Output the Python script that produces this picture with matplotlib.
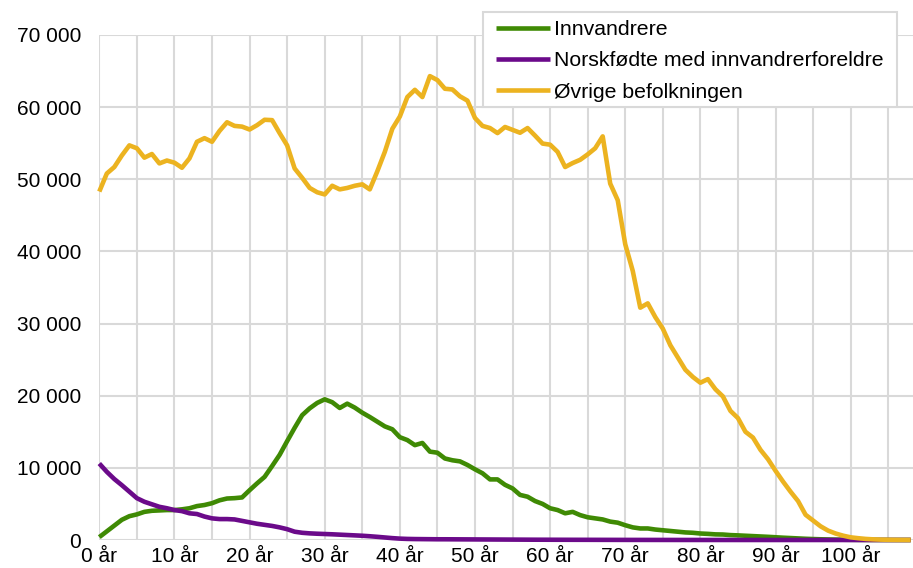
import numpy as np
import matplotlib
matplotlib.use('Agg')
import matplotlib.pyplot as plt
from matplotlib.patches import Rectangle
from matplotlib.ticker import FuncFormatter, MultipleLocator

plt.rcParams['font.family'] = ['Liberation Sans', 'DejaVu Sans']

# Ages 0-108 (one value per year of age)
ages = list(range(109))

innvandrere = [
    400, 1200, 2000, 2800, 3300, 3550, 3900, 4050, 4100, 4150,
    4150, 4250, 4400, 4700, 4850, 5100, 5500, 5750, 5800, 5900,
    6900, 7850, 8750, 10250, 11800, 13700, 15550, 17300, 18250, 19000,
    19500, 19100, 18300, 18900, 18350, 17650, 17050, 16400, 15750, 15350,
    14250, 13850, 13150, 13450, 12250, 12100, 11300, 11050, 10900, 10400,
    9800, 9250, 8400, 8400, 7650, 7150, 6250, 6000, 5400, 5000,
    4400, 4150, 3700, 3900, 3450, 3150, 3000, 2850, 2550, 2400,
    2050, 1750, 1600, 1600, 1450, 1350, 1250, 1150, 1050, 1000,
    900, 850, 780, 760, 680, 640, 590, 540, 490, 440,
    380, 320, 270, 220, 170, 130, 100, 75, 55, 40,
    28, 18, 12, 8, 5, 3, 2, 1, 1,
]

norskfodte = [
    10600, 9450, 8450, 7600, 6700, 5800, 5300, 4950, 4600, 4400,
    4150, 4000, 3700, 3600, 3250, 3000, 2900, 2900, 2850, 2650,
    2450, 2250, 2100, 1950, 1750, 1500, 1150, 1000, 920, 870,
    830, 790, 740, 690, 640, 590, 520, 440, 350, 260,
    190, 150, 130, 120, 110, 100, 100, 95, 90, 85,
    80, 75, 70, 65, 60, 55, 50, 45, 40, 38,
    35, 32, 30, 28, 26, 24, 22, 20, 18, 16,
    14, 12, 11, 10, 9, 8, 7, 6, 5, 5,
    4, 4, 3, 3, 3, 2, 2, 2, 2, 1,
    1, 1, 1, 1, 1, 1, 1, 1, 1, 0,
    0, 0, 0, 0, 0, 0, 0, 0, 0,
]

ovrige = [
    48300, 50800, 51700, 53300, 54700, 54300, 53000, 53500, 52200, 52600,
    52300, 51600, 52900, 55200, 55700, 55200, 56700, 57900, 57400, 57300,
    56900, 57500, 58250, 58200, 56400, 54700, 51500, 50200, 48800, 48200,
    47900, 49100, 48600, 48800, 49100, 49300, 48600, 51100, 53800, 57000,
    58700, 61400, 62400, 61400, 64300, 63750, 62550, 62450, 61500, 60900,
    58500, 57400, 57100, 56400, 57250, 56850, 56450, 57100, 56050, 54950,
    54800, 53800, 51700, 52250, 52700, 53450, 54300, 55950, 49400, 47100,
    41000, 37300, 32200, 32800, 30900, 29300, 27000, 25300, 23600, 22600,
    21800, 22300, 20900, 19900, 17900, 16900, 15000, 14200, 12500, 11200,
    9600, 8100, 6700, 5400, 3500, 2700, 1900, 1300, 900, 600,
    370, 250, 150, 90, 50, 30, 15, 8, 4,
]

series = ['Innvandrere', 'Norskfødte med innvandrerforeldre', 'Øvrige befolkningen']
colors = ['#3f8a04', '#6b0a8a', '#ecb320']

W, H = 913, 568
fig = plt.figure(figsize=(W / 100, H / 100), dpi=100)
ax = fig.add_axes([99.3 / W, 1 - 540 / H, 1 - 99.3 / W, 505 / H])

for name, values, color in zip(series, [innvandrere, norskfodte, ovrige], colors):
    ax.plot(ages, values, color=color, linewidth=3.3, label=name,
            solid_joinstyle='round', solid_capstyle='butt', clip_on=False)

ax.set_xlim(0, 108.3)
ax.set_ylim(0, 70000)
ax.xaxis.set_major_locator(MultipleLocator(10))
ax.xaxis.set_minor_locator(MultipleLocator(5))
ax.yaxis.set_major_locator(MultipleLocator(10000))
ax.xaxis.set_major_formatter(FuncFormatter(lambda v, p: f'{int(v)} år'))
ax.yaxis.set_major_formatter(FuncFormatter(lambda v, p: f'{int(v):,}'.replace(',', ' ')))

ax.grid(True, which='both', color='#d9d9d9', linewidth=1.5)
ax.set_axisbelow(True)
for s in ax.spines.values():
    s.set_visible(False)
ax.tick_params(axis='both', which='both', length=0, labelsize=15, colors='black')
ax.tick_params(axis='y', pad=13)
ax.tick_params(axis='x', pad=5)

# legend box drawn separately so its padding can match the original
box = Rectangle((483 / W, 1 - 107 / H), 414 / W, 95 / H, transform=fig.transFigure,
                facecolor='white', edgecolor='#d9d9d9', linewidth=1.5,
                clip_on=False, zorder=4.9)
ax.add_patch(box)

leg = ax.legend(loc='upper left', bbox_to_anchor=(495.5 / W, 1 - 20 / H),
                bbox_transform=fig.transFigure, borderaxespad=0, fontsize=15.3,
                frameon=False, handlelength=2.55, handletextpad=0.2,
                labelspacing=0.58, borderpad=0)

fig.savefig('out.png', dpi=100)
plt.close(fig)
